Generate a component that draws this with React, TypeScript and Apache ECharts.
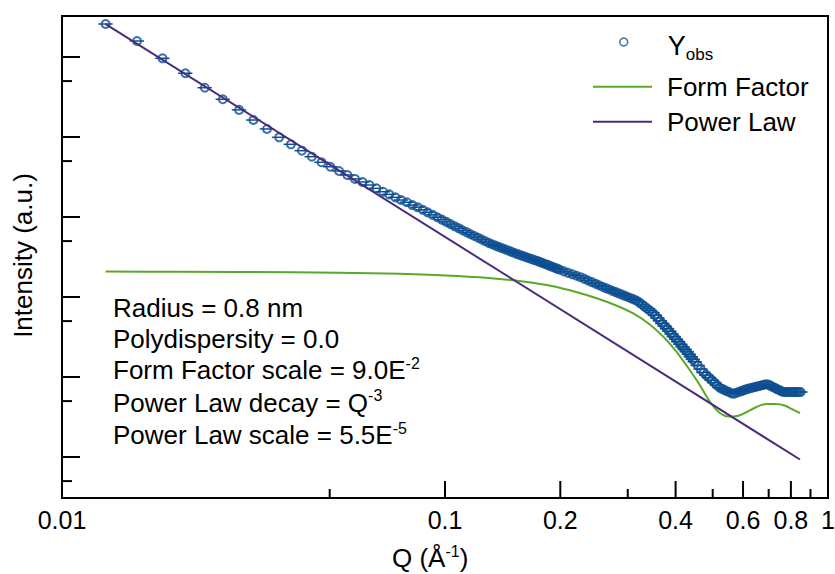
import React, { useEffect, useRef } from 'react';
import * as echarts from 'echarts';

// ---------- data ----------
const qObs = [
  0.0130, 0.0157, 0.0183, 0.0210, 0.0236, 0.0263, 0.0290, 0.0316, 0.0343, 0.0369,
  0.0396, 0.0423, 0.0449, 0.0476, 0.0502, 0.0529, 0.0556, 0.0582, 0.0609, 0.0635,
  0.0662, 0.0689, 0.0715, 0.0742, 0.0768, 0.0795, 0.0822,
  0.0848, 0.0875, 0.0901, 0.0928, 0.0955, 0.0981, 0.1008, 0.1034, 0.1061, 0.1088,
  0.1114, 0.1141, 0.1167, 0.1194, 0.1221, 0.1247, 0.1274, 0.1300, 0.1327, 0.1354,
  0.1380, 0.1407, 0.1433, 0.1460, 0.1487, 0.1513, 0.1540, 0.1566, 0.1593, 0.1620,
  0.1646, 0.1673, 0.1699, 0.1726, 0.1753, 0.1779, 0.1806, 0.1832, 0.1859, 0.1886,
  0.1912, 0.1939, 0.1965, 0.1992,
  0.2045, 0.2098, 0.2152, 0.2205, 0.2258, 0.2311, 0.2364, 0.2418, 0.2471, 0.2524,
  0.2577, 0.2630, 0.2684, 0.2737, 0.2790, 0.2843, 0.2896, 0.2950, 0.3003, 0.3056,
  0.3109, 0.3162, 0.3216, 0.3269, 0.3322, 0.3375, 0.3428, 0.3482, 0.3535, 0.3588,
  0.3641, 0.3694, 0.3748, 0.3801, 0.3854, 0.3907, 0.3960, 0.4014, 0.4067, 0.4120,
  0.4173, 0.4226, 0.4280, 0.4333, 0.4386, 0.4439, 0.4492,
  0.4572, 0.4652, 0.4732, 0.4812, 0.4891, 0.4971, 0.5051, 0.5131, 0.5211, 0.5290,
  0.5370, 0.5450, 0.5530, 0.5610, 0.5689, 0.5769, 0.5849, 0.5929, 0.6009, 0.6088,
  0.6168, 0.6248, 0.6328, 0.6408, 0.6487, 0.6567, 0.6647, 0.6727, 0.6807, 0.6886,
  0.6966, 0.7046, 0.7126, 0.7206, 0.7285, 0.7365, 0.7445, 0.7525, 0.7605, 0.7684,
  0.7764, 0.7844, 0.7924, 0.8004, 0.8083, 0.8163, 0.8243, 0.8323, 0.8403, 0.8482,
];
const iObs = [
  25.85, 15.85, 9.63, 6.26, 4.13, 2.96, 2.18, 1.63, 1.26, 0.991,
  0.810, 0.674, 0.567, 0.483, 0.425, 0.376, 0.335, 0.299, 0.274, 0.251,
  0.228, 0.207, 0.192, 0.176, 0.163, 0.153, 0.141,
  0.1326, 0.1230, 0.1143, 0.1065, 0.0993, 0.0928, 0.0869, 0.0815, 0.0765, 0.0720,
  0.0678, 0.0642, 0.0609, 0.0578, 0.0550, 0.0523, 0.0498, 0.0475, 0.0456, 0.0439,
  0.0424, 0.0409, 0.0395, 0.0382, 0.0369, 0.0357, 0.0346, 0.0336, 0.0327, 0.0318,
  0.0309, 0.0301, 0.0293, 0.0286, 0.0279, 0.0271, 0.0264, 0.0257, 0.0250, 0.0243,
  0.0237, 0.0231, 0.0225, 0.0220,
  0.02093, 0.02004, 0.01921, 0.01843, 0.01769, 0.01686, 0.01607, 0.01534, 0.01467, 0.01403,
  0.01342, 0.01290, 0.01241, 0.01195, 0.01152, 0.01110, 0.01071, 0.01034, 0.00999, 0.00966,
  0.00935, 0.00905, 0.00856, 0.00805, 0.00759, 0.00716, 0.00676, 0.00639, 0.00592, 0.00546,
  0.00505, 0.00467, 0.00433, 0.00402, 0.00373, 0.00345, 0.00320, 0.00297, 0.00276, 0.00256,
  0.00238, 0.00222, 0.00207, 0.00192, 0.00179, 0.00166, 0.00155,
  0.001393, 0.001256, 0.001139, 0.001056, 0.000981, 0.000913, 0.000850, 0.000792, 0.000738, 0.000709,
  0.000686, 0.000664, 0.000644, 0.000623, 0.000620, 0.000635, 0.000650, 0.000665, 0.000681, 0.000696,
  0.000711, 0.000722, 0.000733, 0.000744, 0.000755, 0.000766, 0.000778, 0.000789, 0.000800, 0.000812,
  0.000807, 0.000786, 0.000765, 0.000745, 0.000725, 0.000707, 0.000689, 0.000672, 0.000655, 0.000649,
  0.000649, 0.000649, 0.000649, 0.000649, 0.000649, 0.000649, 0.000649, 0.000649, 0.000649, 0.000649,
];
// relative Q resolution (horizontal error bars)
const qResolution = 0.043;

const qFormFactor = [
  0.013, 0.02, 0.04, 0.07, 0.10, 0.13, 0.16, 0.19, 0.22, 0.25,
  0.28, 0.31, 0.34, 0.37, 0.40, 0.43, 0.46, 0.49, 0.52, 0.55,
  0.58, 0.61, 0.65, 0.69, 0.73, 0.77, 0.81, 0.845,
];
const iFormFactor = [
  0.02083, 0.02065, 0.02035, 0.01966, 0.01857, 0.01728, 0.01562, 0.01372, 0.01155, 0.00958,
  0.00783, 0.00622, 0.00466, 0.003255, 0.002144, 0.001334, 0.000829, 0.000501, 0.000360, 0.000321,
  0.000325, 0.000360, 0.000422, 0.000460, 0.000460, 0.000440, 0.000392, 0.000355,
];

const qPowerLaw = [0.013, 0.845];
const iPowerLaw = [25.8, 9.3e-5];

// axes
const X_MIN = 0.01;
const X_MAX = 1;
const Y_MIN = 3.073e-5;
const Y_MAX = 32.54;
const xLabelValues = [0.01, 0.1, 0.2, 0.4, 0.6, 0.8, 1];
const xLabelTexts = ['0.01', '0.1', '0.2', '0.4', '0.6', '0.8', '1'];
const xMajorTicks = [0.1, 0.2, 0.4, 0.6, 0.8];
const xMinorTicks = [0.05, 0.3, 0.5, 0.7, 0.9];
const yMajorTicks = [1e-4, 1e-3, 1e-2, 1e-1, 1, 10];
const yMinorTicks = [5e-5, 5e-4, 5e-3, 5e-2, 0.5, 5];

const annotationLines = [
  '{m|Radius = 0.8 nm}',
  '{m|Polydispersity = 0.0}',
  '{m|Form Factor scale = 9.0E}{s|-2}',
  '{m|Power Law decay = Q}{s|-3}',
  '{m|Power Law scale = 5.5E}{s|-5}',
];

// ---------- styles ----------
const FONT = "'Liberation Sans', Arial, Helvetica, sans-serif";
const BLUE = '#0d4f91';
const GREEN = '#5aa829';
const PURPLE = '#4b2a7c';
const annotationY = [306.6, 337.8, 369.4, 401.9, 434.2];

const supRich = {
  m: { fontSize: 26, fontFamily: FONT, lineHeight: 28, verticalAlign: 'bottom', fill: '#000', color: '#000' },
  s: { fontSize: 16, fontFamily: FONT, lineHeight: 18, verticalAlign: 'top', fill: '#000', color: '#000' },
};

function buildOption(): any {
  const obsData = qObs.map((q, k) => [q, iObs[k]]);
  const ffData = qFormFactor.map((q, k) => [q, iFormFactor[k]]);
  const plData = qPowerLaw.map((q, k) => [q, iPowerLaw[k]]);

  const xTickData = [
    ...xMajorTicks.map((v) => [v, Y_MIN, 1]),
    ...xMinorTicks.map((v) => [v, Y_MIN, 0]),
  ];
  const yTickData = [
    ...yMajorTicks.map((v) => [X_MIN, v, 1]),
    ...yMinorTicks.map((v) => [X_MIN, v, 0]),
  ];
  const xLabelData = xLabelValues.map((v) => [v, Y_MIN]);

  const hiddenAxis = {
    axisLine: { show: false },
    axisTick: { show: false },
    axisLabel: { show: false },
    splitLine: { show: false },
    minorTick: { show: false },
    minorSplitLine: { show: false },
  };

  const lineLegend = (name: string, color: string, top: number) => ({
    data: [{ name, icon: 'rect', itemStyle: { color, borderWidth: 0 } }],
    left: 593,
    top,
    padding: 0,
    itemWidth: 59,
    itemHeight: 2,
    selectedMode: false,
    textStyle: { fontSize: 26, lineHeight: 30, fontFamily: FONT, color: '#000', padding: [0, 0, 0, 10] },
  });

  return {
    animation: false,
    backgroundColor: '#ffffff',
    grid: {
      left: 62,
      right: 7,
      top: 16,
      bottom: 76,
      show: true,
      borderColor: '#000',
      borderWidth: 2,
      backgroundColor: 'rgba(0,0,0,0)',
      containLabel: false,
      outerBoundsMode: 'none',
    },
    xAxis: { type: 'log', logBase: 10, min: X_MIN, max: X_MAX, ...hiddenAxis },
    yAxis: { type: 'log', logBase: 10, min: Y_MIN, max: Y_MAX, ...hiddenAxis },
    legend: [
      {
        data: [
          {
            name: 'Yobs',
            icon: 'circle',
            itemStyle: { color: 'rgba(0,0,0,0)', borderColor: BLUE, borderWidth: 1.5 },
          },
        ],
        left: 619,
        top: 25,
        orient: 'vertical',
        padding: 0,
        itemWidth: 8,
        itemHeight: 8,
        selectedMode: false,
        formatter: () => '{y|Y}{s|obs}',
        textStyle: {
          color: '#000',
          fontFamily: FONT,
          padding: [0, 0, 0, 35],
          rich: {
            y: { fontSize: 27, lineHeight: 34, verticalAlign: 'bottom', fontFamily: FONT, color: '#000' },
            s: {
              fontSize: 17,
              lineHeight: 8,
              verticalAlign: 'top',
              padding: [21, 0, 0, 0],
              fontFamily: FONT,
              color: '#000',
            },
          },
        },
      },
      lineLegend('Form Factor', GREEN, 71.7),
      lineLegend('Power Law', PURPLE, 106.7),
    ],
    graphic: [
      {
        type: 'text',
        x: 22.6,
        y: 255.5,
        rotation: Math.PI / 2,
        style: {
          text: 'Intensity (a.u.)',
          fontSize: 26,
          fontFamily: FONT,
          fill: '#000',
          align: 'center',
          verticalAlign: 'middle',
        },
      },
      {
        type: 'text',
        x: 392,
        y: 557,
        style: {
          text: '{m|Q (Å}{s|-1}{m|)}',
          rich: supRich,
          fill: '#000',
          align: 'left',
          verticalAlign: 'middle',
        },
      },
      ...annotationLines.map((t, k) => ({
        type: 'text',
        x: 113,
        y: annotationY[k],
        style: {
          text: t,
          rich: supRich,
          fill: '#000',
          align: 'left',
          verticalAlign: 'middle',
        },
      })),
    ],
    series: [
      {
        type: 'custom',
        name: 'xTicks',
        silent: true,
        clip: false,
        z: 6,
        data: xTickData,
        encode: { x: 0, y: 1 },
        renderItem: (params: any, api: any) => {
          const p = api.coord([api.value(0), api.value(1)]);
          const len = api.value(2) ? 17 : 9;
          return {
            type: 'line',
            shape: { x1: p[0], y1: p[1], x2: p[0], y2: p[1] - len },
            style: { stroke: '#000', lineWidth: 2 },
          };
        },
      },
      {
        type: 'custom',
        name: 'yTicks',
        silent: true,
        clip: false,
        z: 6,
        data: yTickData,
        encode: { x: 0, y: 1 },
        renderItem: (params: any, api: any) => {
          const p = api.coord([api.value(0), api.value(1)]);
          const len = api.value(2) ? 18 : 10;
          return {
            type: 'line',
            shape: { x1: p[0], y1: p[1], x2: p[0] + len, y2: p[1] },
            style: { stroke: '#000', lineWidth: 2 },
          };
        },
      },
      {
        type: 'custom',
        name: 'xLabels',
        silent: true,
        clip: false,
        z: 6,
        data: xLabelData,
        encode: { x: 0, y: 1 },
        renderItem: (params: any, api: any) => {
          const p = api.coord([api.value(0), api.value(1)]);
          return {
            type: 'text',
            x: p[0],
            y: p[1] + 21.5,
            style: {
              text: xLabelTexts[params.dataIndex],
              fontSize: 25,
              fontFamily: FONT,
              fill: '#000',
              align: 'center',
              verticalAlign: 'middle',
            },
          };
        },
      },
      {
        type: 'custom',
        name: 'errQ',
        silent: true,
        z: 2,
        data: obsData,
        encode: { x: 0, y: 1 },
        renderItem: (params: any, api: any) => {
          const q = api.value(0);
          const i = api.value(1);
          const a = api.coord([q * (1 - qResolution), i]);
          const b = api.coord([q * (1 + qResolution), i]);
          return {
            type: 'line',
            shape: { x1: a[0], y1: a[1], x2: b[0], y2: b[1] },
            style: { stroke: BLUE, lineWidth: 1.5 },
          };
        },
      },
      {
        type: 'scatter',
        name: 'Yobs',
        silent: true,
        z: 2,
        symbol: 'circle',
        symbolSize: 8,
        data: obsData,
        itemStyle: { color: 'rgba(0,0,0,0)', borderColor: BLUE, borderWidth: 2 },
      },
      {
        type: 'line',
        name: 'Form Factor',
        silent: true,
        z: 3,
        data: ffData,
        symbol: 'none',
        smooth: 0.3,
        lineStyle: { color: GREEN, width: 2 },
        itemStyle: { color: GREEN },
      },
      {
        type: 'line',
        name: 'Power Law',
        silent: true,
        z: 4,
        data: plData,
        symbol: 'none',
        lineStyle: { color: PURPLE, width: 2 },
        itemStyle: { color: PURPLE },
      },
    ],
  };
}

export default function App() {
  const ref = useRef<HTMLDivElement>(null);
  useEffect(() => {
    document.body.style.margin = '0';
    const chart = echarts.init(ref.current as HTMLDivElement, null, { renderer: 'svg' });
    chart.setOption(buildOption());
    return () => {
      chart.dispose();
    };
  }, []);
  return <div ref={ref} style={{ width: 835, height: 574 }} />;
}
